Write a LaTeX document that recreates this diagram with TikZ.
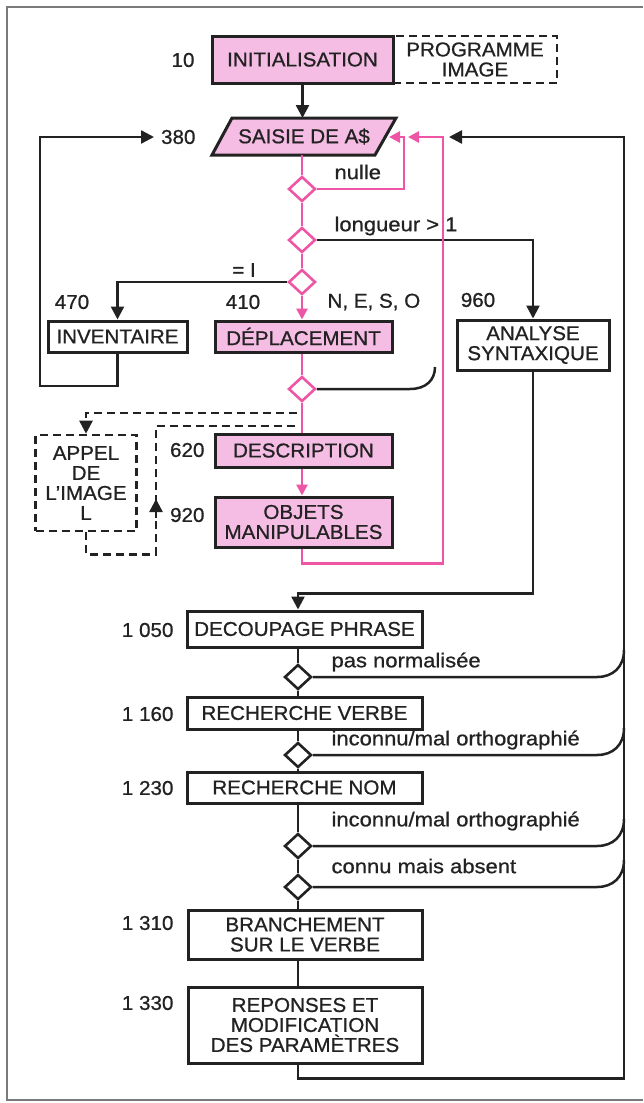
\documentclass[tikz,border=0pt]{standalone}
\usepackage{fontspec}
\setmainfont{Liberation Sans}[FakeStretch=1.03,FakeBold=0.8]
\newfontfamily\labf{Liberation Sans}[FakeStretch=1.1,FakeBold=0.8]
\usetikzlibrary{arrows.meta,shapes.geometric}
\definecolor{ink}{RGB}{34,34,34}
\definecolor{pfill}{RGB}{245,188,228}
\definecolor{pline}{RGB}{238,85,165}
\begin{document}
\begin{tikzpicture}[x=1pt,y=-1pt,
  every node/.style={text=ink,font=\fontsize{20}{20}\selectfont},
  box/.style={draw=ink,line width=3pt,fill=white,inner sep=0pt,align=center},
  pbox/.style={box,fill=pfill},
  dbox/.style={box,line width=2.6pt,dash pattern=on 8pt off 5pt},
  blk/.style={draw=ink,line width=2.5pt},
  pnk/.style={draw=pline,line width=2.8pt},
  dsh/.style={blk,dash pattern=on 8pt off 5pt},
  tip/.style={-{Triangle[length=13pt,width=13pt]}},
  ptip/.style={-{Triangle[length=11pt,width=11pt]}},
  pdia/.style={diamond,aspect=1,minimum width=27pt,minimum height=25pt,inner sep=0pt,draw=pline,line width=2.6pt,fill=white},
  bdia/.style={pdia,draw=ink},
  lab/.style={font={\labf\fontsize{20}{20}\selectfont}},
]
\useasboundingbox (0,0) rectangle (643,1103);
\draw[ink!60,line width=1.4pt] (643,7) -- (7,7) -- (7,1100) -- (643,1100);

% ---------- nodes ----------
\node[dbox,minimum width=164pt,minimum height=47pt] (prog) at (475,59.5) {PROGRAMME\\IMAGE};
\node[pbox,minimum width=181pt,minimum height=47pt] (init) at (302.5,59.5) {INITIALISATION};

\coordinate (sTL) at (232,118);
\coordinate (sTR) at (396,118);
\coordinate (sBR) at (375,155);
\coordinate (sBL) at (212,155);
\draw[fill=pfill,draw=ink,line width=3pt,line join=miter] (sTL) -- (sTR) -- (sBR) -- (sBL) -- cycle;
\node (saisie) at (304,136.5) {SAISIE DE A\$};

\node[pdia] (d1) at (302,189) {};
\node[pdia] (d2) at (302,240) {};
\node[pdia] (d3) at (302,282) {};
\node[pdia] (d4) at (302,389) {};

\node[box,minimum width=139pt,minimum height=31pt] (inv) at (117.5,336.5) {INVENTAIRE};
\node[pbox,minimum width=177pt,minimum height=31pt] (dep) at (303.5,336.5) {DÉPLACEMENT};
\node[box,minimum width=152pt,minimum height=50pt] (ana) at (533,345) {ANALYSE\\SYNTAXIQUE};
\node[dbox,minimum width=101pt,minimum height=96pt] (appel) at (86,483) {APPEL\\DE\\L’IMAGE\\L};
\node[pbox,minimum width=177pt,minimum height=33pt] (desc) at (303.5,450.5) {DESCRIPTION};
\node[pbox,minimum width=177pt,minimum height=50pt] (obj) at (303.5,522) {OBJETS\\MANIPULABLES};

\node[box,minimum width=235pt,minimum height=36pt] (dec) at (304.5,629) {DECOUPAGE PHRASE};
\node[bdia] (d5) at (298,677) {};
\node[box,minimum width=235pt,minimum height=32pt] (verb) at (304.5,713) {RECHERCHE VERBE};
\node[bdia] (d6) at (298,755) {};
\node[box,minimum width=235pt,minimum height=31pt] (nom) at (304.5,787.5) {RECHERCHE NOM};
\node[bdia] (d7) at (298,846) {};
\node[bdia] (d8) at (298,887) {};
\node[box,minimum width=234pt,minimum height=49pt] (bra) at (305,934.5) {BRANCHEMENT\\SUR LE VERBE};
\node[box,minimum width=234pt,minimum height=76pt] (rep) at (305,1025) {REPONSES ET\\MODIFICATION\\DES PARAMÈTRES};

% ---------- labels ----------
\node[anchor=east] (l10) at (198,60) {10};
\node[anchor=east] (l380) at (199,137) {380};
\node[lab,anchor=west] (lnul) at (331,172) {nulle};
\node[lab,anchor=west] (llong) at (331,226) {longueur > 1};
\node (leq) at (244,270) {= I};
\node (l470) at (72,302) {470};
\node (l410) at (243,302) {410};
\node[anchor=west] (lnesw) at (324,302) {N, E, S, O};
\node (l960) at (478,300) {960};
\node[anchor=east] (l620) at (208,450) {620};
\node[anchor=east] (l920) at (208,515) {920};
\node[anchor=east] (l1050) at (177,630) {1 050};
\node[anchor=east] (l1160) at (177,714) {1 160};
\node[anchor=east] (l1230) at (177,788) {1 230};
\node[anchor=east] (l1310) at (177,923) {1 310};
\node[anchor=east] (l1330) at (177,1003) {1 330};
\node[lab,anchor=west] (lpas) at (328,662) {pas normalisée};
\node[lab,anchor=west] (linc1) at (328,740) {inconnu/mal orthographié};
\node[lab,anchor=west] (linc2) at (328,821) {inconnu/mal orthographié};
\node[lab,anchor=west] (lcon) at (328,866) {connu mais absent};

% ---------- black connectors ----------
\draw[blk,tip] (init.south) -- (init.south |- sTL);
\coordinate (lpA) at (40,386);
\coordinate (lpB) at (40,137);
\coordinate (lpT) at (154,137);
\draw[blk,tip] (inv.south) -- (inv.south |- lpA) -- (lpA) -- (lpB) -- (lpT);
\draw[blk,tip] (d3.west) -| (inv.north);
\draw[blk,tip] (d2.east) -| (ana.north);
\coordinate (cv) at (435,367);
\draw[blk] (d4.east) -- (410,389) .. controls (426,389) and (435,380) .. (cv);
\draw[blk,tip] (ana.south) -- ++(0,222) -| (dec.north -| d5);
\draw[blk] (dec.south -| d5) -- (d5.north);
\draw[blk] (d5.south) -- (d5.south |- verb.north);
\draw[blk] (verb.south -| d6) -- (d6.north);
\draw[blk] (d6.south) -- (d6.south |- nom.north);
\draw[blk] (nom.south -| d7) -- (d7.north);
\draw[blk] (d7.south) -- (d8.north);
\draw[blk] (d8.south) -- (d8.south |- bra.north);
\draw[blk] (bra.south -| d8) -- (rep.north -| d8);
\coordinate (rR) at (624,137);
\coordinate (rT) at (449,137);
\draw[blk,tip] (rep.south -| d8) -- ++(0,14) -| (rR) -- (rT);
\foreach \d/\yy in {d5/677,d6/755,d7/846,d8/887}{
  \draw[blk] (\d.east) -- (597,\yy) .. controls (613,\yy) and (624,\yy-10) .. (624,\yy-27);
}

% ---------- dashed ----------
\coordinate (da) at (297,413);
\coordinate (db) at (297,426);
\coordinate (dc) at (156,426);
\draw[dsh,tip] (da) -| (appel.north);
\draw[dsh] (appel.south) -- ++(0,22) -| (dc) -- (db);
\draw[blk,tip] (156,518) -- (156,499);

% ---------- pink connectors ----------
\draw[pnk] (d1.north |- sBL) -- (d1.north);
\draw[pnk] (d1.south) -- (d2.north);
\draw[pnk] (d2.south) -- (d3.north);
\draw[pnk,ptip] (d3.south) -- (d3.south |- dep.north);
\draw[pnk] (d3.south |- dep.south) -- (d4.north);
\draw[pnk] (d4.south) -- (d4.south |- desc.north);
\draw[pnk,ptip] (d4.south |- desc.south) -- (d4.south |- obj.north);
\coordinate (nA) at (404,137);
\coordinate (nT) at (389,137);
\draw[pnk,ptip] (d1.east) -| (nA) -- (nT);
\coordinate (mA) at (443,137);
\coordinate (mT) at (408,137);
\draw[pnk,ptip] (d4.south |- obj.south) -- ++(0,15) -| (mA) -- (mT);
\end{tikzpicture}
\end{document}
